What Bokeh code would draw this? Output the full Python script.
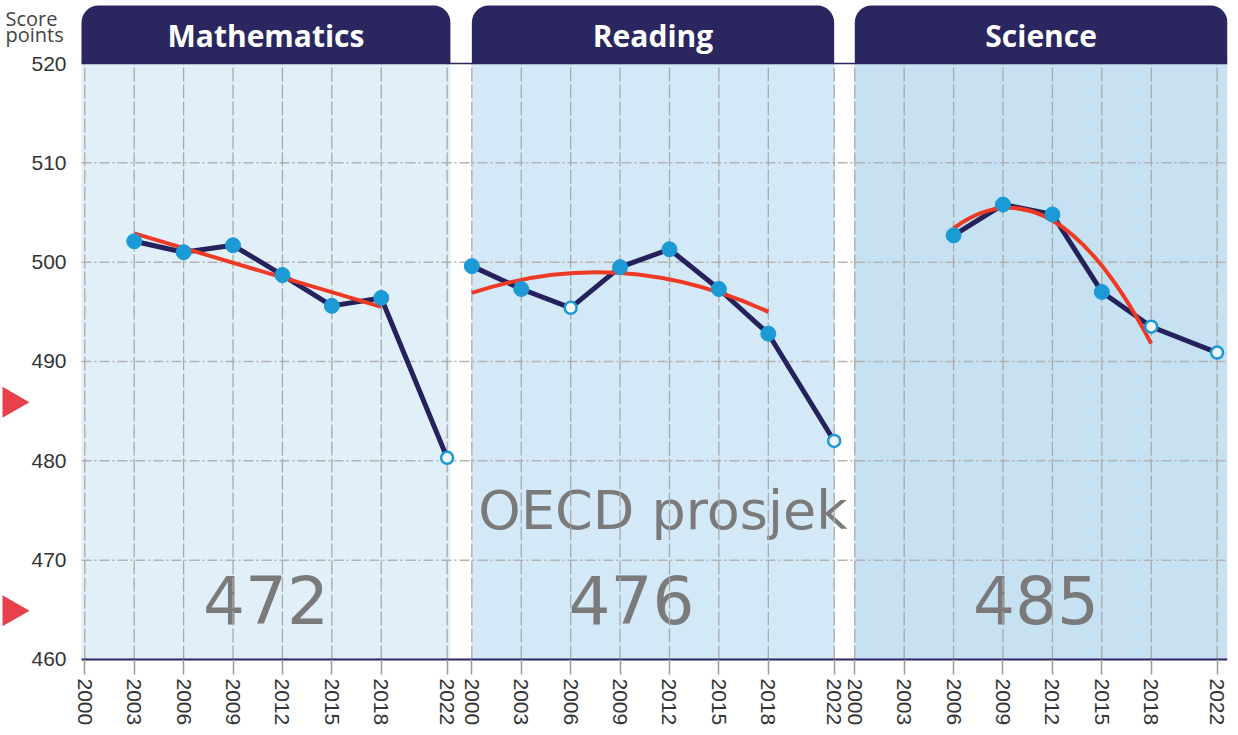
from bokeh.plotting import figure
from bokeh.models import Range1d, FixedTicker, BoxAnnotation, Label
from bokeh.core.properties import value
from bokeh.embed import file_html
from bokeh.resources import INLINE

# ---------------- data ----------------
subjects = ["Mathematics", "Reading", "Science"]
oecd_avg = ["472", "476", "485"]
oecd_label = "OECD prosjek"
axis_title = ["Score", "points"]
tick_years = [2000, 2003, 2006, 2009, 2012, 2015, 2018, 2022]
y_ticks = [460, 470, 480, 490, 500, 510, 520]

math_years = [2003, 2006, 2009, 2012, 2015, 2018, 2022]
math_scores = [502.1, 501.0, 501.7, 498.7, 495.6, 496.4, 480.3]
math_open = [2022]

read_years = [2000, 2003, 2006, 2009, 2012, 2015, 2018, 2022]
read_scores = [499.6, 497.3, 495.4, 499.5, 501.3, 497.3, 492.8, 482.0]
read_open = [2006, 2022]

sci_years = [2006, 2009, 2012, 2015, 2018, 2022]
sci_scores = [502.7, 505.8, 504.8, 497.0, 493.5, 490.9]
sci_open = [2018, 2022]

# trend curves: start, middle, end (year, value)
math_trend_years = [2003, 2010.5, 2018]
math_trend_vals = [502.9, 499.2, 495.5]
read_trend_years = [2000, 2009, 2018]
read_trend_vals = [496.9, 498.9, 495.0]
sci_trend_years = [2006, 2012, 2018]
sci_trend_vals = [503.4, 504.2, 491.8]

marker_levels = [485.9, 464.9]

# ---------------- style / layout ----------------
NAVY = "#2a2660"
LINE_NAVY = "#25215c"
BLUE = "#1b9ad6"
RED = "#ee3a24"
TRI_RED = "#e8414b"
BG = ["#e1eff9", "#d3e9f7", "#c6e2f2"]
GRID = "#b3b3b3"
TXT = "#333333"

PX = 16.47                 # pixels per year
PY = 9.933                 # pixels per score point
W, H = 1230, 727
offsets = [0.0, 23.5, 46.75]
PANEL0 = -0.2
X_START = PANEL0 - 81 / PX
X_END = PANEL0 + (1227 - 81) / PX
Y_END = 520 + 63 / PY
Y_START = 460 - (H - 659) / PY
HEADER_TOP = 520 + 58 / PY
panel_left = [PANEL0, 23.5, 46.75]
panel_right = [22.2, 45.5, X_END]


def cx(c):
    return X_START + c / PX


def cy(c):
    return 520 + (63 - c) / PY


p = figure(width=W, height=H, x_range=Range1d(X_START, X_END),
           y_range=Range1d(Y_START, Y_END), output_backend="svg",
           toolbar_location=None, min_border_left=0, min_border_right=3,
           min_border_top=0, min_border_bottom=0)
p.outline_line_color = None
p.background_fill_color = "white"
p.border_fill_color = "white"
p.grid.visible = False

# panel backgrounds
p.quad(left=panel_left, right=panel_right, bottom=460, top=520,
       fill_color=BG, line_color=None, level="image")

# horizontal grid lines
hg = [t for t in y_ticks if 460 < t < 520]
p.segment(x0=PANEL0, y0=hg, x1=X_END, y1=hg, line_color=GRID,
          line_width=1.5, line_dash="10 3 2 3")

# y axis (inside the frame so the left margin can hold other marks)
p.yaxis.fixed_location = PANEL0
p.yaxis.ticker = FixedTicker(ticks=y_ticks)
p.yaxis.axis_line_color = None
p.yaxis.major_tick_line_color = None
p.yaxis.major_tick_out = 0
p.yaxis.major_tick_in = 0
p.yaxis.minor_tick_line_color = None
p.yaxis.major_label_standoff = 15
p.yaxis.major_label_text_font = "Liberation Sans"
p.yaxis.major_label_text_font_size = "21px"
p.yaxis.major_label_text_color = TXT

# x axis
positions = []
overrides = {}
for off in offsets:
    for yr in tick_years:
        pos = float(off + (yr - 2000))
        positions.append(pos)
        overrides[pos] = str(yr)
p.xaxis.fixed_location = 460
p.xaxis.ticker = FixedTicker(ticks=positions)
p.xaxis.bounds = (PANEL0, X_END)
p.xaxis.major_label_overrides = overrides
p.xaxis.major_label_orientation = "vertical"
p.xaxis.axis_line_color = NAVY
p.xaxis.axis_line_width = 2
p.xaxis.major_tick_line_color = "#9a9a9a"
p.xaxis.major_tick_line_width = 1.5
p.xaxis.major_tick_out = 15
p.xaxis.major_tick_in = 0
p.xaxis.minor_tick_line_color = None
p.xaxis.major_label_standoff = 4
p.xaxis.major_label_text_font = "Liberation Sans"
p.xaxis.major_label_text_font_size = "21px"
p.xaxis.major_label_text_color = TXT

# big texts
p.text(x=[offsets[0] + 11.0, offsets[1] + 9.7, offsets[2] + 11.0],
       y=[cy(599)] * 3, text=oecd_avg, text_font=value("DejaVu Sans"),
       text_font_size="66px", text_color="#7a7a7a", text_align="center",
       text_baseline="middle")
p.text(x=[offsets[1] + 11.6], y=[cy(510)], text=[oecd_label],
       text_font=value("DejaVu Sans"), text_font_size="54px",
       text_color="#7a7a7a", text_align="center", text_baseline="middle")

# vertical grid segments
p.segment(x0=positions, y0=460, x1=positions, y1=520, line_color="#a9a9a9",
          line_width=1.3, line_dash="14 3")

# line at 520 (bottom of headers)
p.segment(x0=[PANEL0], y0=[520], x1=[X_END], y1=[520], line_color=NAVY, line_width=1.5)

series = [(math_years, math_scores, math_open, math_trend_years, math_trend_vals),
          (read_years, read_scores, read_open, read_trend_years, read_trend_vals),
          (sci_years, sci_scores, sci_open, sci_trend_years, sci_trend_vals)]

for off, (yrs, vals, opn, ty, tv) in zip(offsets, series):
    xs = [off + (y - 2000) for y in yrs]
    p.line(xs, vals, line_color=LINE_NAVY, line_width=5, line_join="round")
    tx = [off + (y - 2000) for y in ty]
    ctrl = 2 * tv[1] - (tv[0] + tv[2]) / 2
    p.quadratic(x0=[tx[0]], y0=[tv[0]], x1=[tx[2]], y1=[tv[2]],
                cx=[(tx[0] + tx[2]) / 2], cy=[ctrl], line_color=RED, line_width=4)
    fx = [x for x, y in zip(xs, yrs) if y not in opn]
    fv = [v for v, y in zip(vals, yrs) if y not in opn]
    ox = [x for x, y in zip(xs, yrs) if y in opn]
    ov = [v for v, y in zip(vals, yrs) if y in opn]
    p.scatter(fx, fv, size=15, fill_color=BLUE, line_color=BLUE, line_width=1)
    p.scatter(ox, ov, size=12, fill_color="#eef7fd", line_color=BLUE, line_width=2.5)

# "Score points"
p.text(x=[cx(5)] * 2, y=[cy(18), cy(34)], text=axis_title,
       text_font=value("Open Sans"), text_font_size="20px",
       text_color="#444444", text_baseline="middle", text_align="left")

# red triangle markers on the left
half = 15.5 / PY
p.patches(xs=[[cx(2), cx(2), cx(29)] for _ in marker_levels],
          ys=[[lv + half, lv - half, lv] for lv in marker_levels],
          fill_color=TRI_RED, line_color=None)

# headers
for l, r, name in zip(panel_left, panel_right, subjects):
    p.add_layout(BoxAnnotation(left=l, right=r, bottom=520, top=HEADER_TOP,
                               fill_color=NAVY, fill_alpha=1.0, line_color=None,
                               border_radius=(17, 17, 0, 0)))
    p.add_layout(Label(x=(l + r) / 2, y=cy(35), text=name, text_align="center",
                       text_baseline="middle", text_color="white",
                       text_font="Open Sans", text_font_size="30px",
                       text_font_style="bold"))

open("out.html", "w").write(file_html(p, INLINE))
